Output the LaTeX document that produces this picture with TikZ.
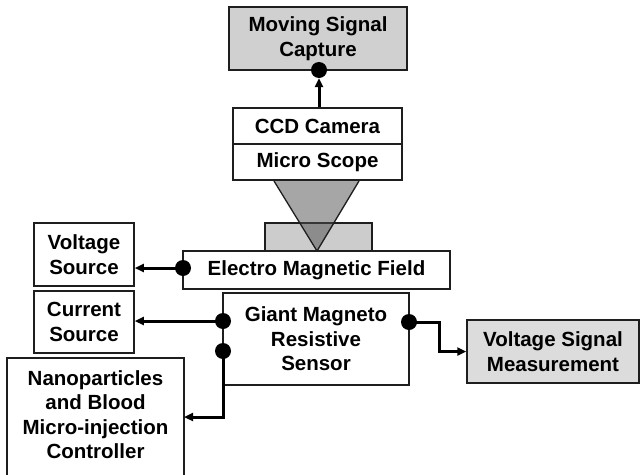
\documentclass[tikz,border=0pt]{standalone}
\usepackage{fontspec}
\setmainfont{Liberation Sans}
\usetikzlibrary{arrows.meta}
\definecolor{boxline}{RGB}{30,30,30}
\definecolor{capfill}{RGB}{208,208,208}
\definecolor{vsmfill}{RGB}{220,220,220}
\definecolor{rectfill}{RGB}{204,204,204}
\definecolor{trifill}{RGB}{78,78,78}
\tikzset{
  box/.style={draw=boxline, line width=1.5pt, inner sep=0pt, align=center,
    font=\bfseries\fontsize{20.5}{24.5}\selectfont},
  plain/.style={font=\bfseries\fontsize{20.5}{24.5}\selectfont, align=center, inner sep=0pt},
  conn/.style={draw=black, line width=3pt},
  arr/.style={conn, -{Triangle[length=9pt,width=8pt]}},
  dot/.style={fill=black, circle, inner sep=0pt, minimum size=16pt},
}
\begin{document}
\begin{tikzpicture}[x=1pt,y=-1pt]
\clip (0,0) rectangle (640,474);
\fill[white] (0,0) rectangle (640,474);
% boxes
\node[box, fill=capfill, minimum width=178pt, minimum height=63pt] (msc) at (318,38.5) {Moving Signal\\Capture};
\node[box, fill=white, minimum width=169pt, minimum height=36pt] (ccd) at (317.5,126) {CCD Camera};
\node[box, fill=white, minimum width=169pt, minimum height=36pt] (ms) at (317.5,162) {Micro Scope};
% specimen and light cone
\draw[draw=boxline, line width=1.5pt, fill=rectfill] (265,223) rectangle (372,251);
\path[fill=trifill, fill opacity=0.5] (274,181) -- (359,181) -- (317,251) -- cycle;
\draw[draw=boxline, line width=1.3pt] (274,181) -- (317,251) -- (359,181);
\node[box, fill=white, minimum width=267pt, minimum height=38pt] (emf) at (316.5,270) {Electro Magnetic Field};
\node[box, fill=white, minimum width=100pt, minimum height=63pt] (vs) at (84,254.5) {Voltage\\Source};
\node[box, fill=white, minimum width=100pt, minimum height=62pt] (cs) at (84,322) {Current\\Source};
\node[box, fill=white, minimum width=186pt, minimum height=92pt] (gmr) at (316,339) {Giant Magneto\\Resistive\\Sensor};
\node[box, fill=vsmfill, minimum width=172pt, minimum height=63pt] (vsm) at (553,351.5) {Voltage Signal\\Measurement};
\draw[draw=boxline, line width=1.5pt] (7,490) -- (7,358) -- (184,358) -- (184,490);
\node[plain] (nano) at (95.5,414.5) {Nanoparticles\\and Blood\\Micro-injection\\Controller};
% dots
\node[dot] (d1) at (319,70) {};
\node[dot] (d2) at (183,268) {};
\node[dot] (d3) at (223,321) {};
\node[dot] (d4) at (223,351) {};
\node[dot] (d5) at (409,322) {};
\coordinate (nanoin) at (184,417);
\coordinate (k1) at (439,322);
% connectors
\draw[arr] (ccd.north -| d1) -- (d1.south);
\draw[arr] (d2.center) -- (d2.center -| vs.east);
\draw[arr] (d3.center) -- (d3.center -| cs.east);
\draw[arr] (d4.center) |- (nanoin);
\draw[arr] (d5.center) -- (k1) |- (vsm.west);
\end{tikzpicture}
\end{document}
